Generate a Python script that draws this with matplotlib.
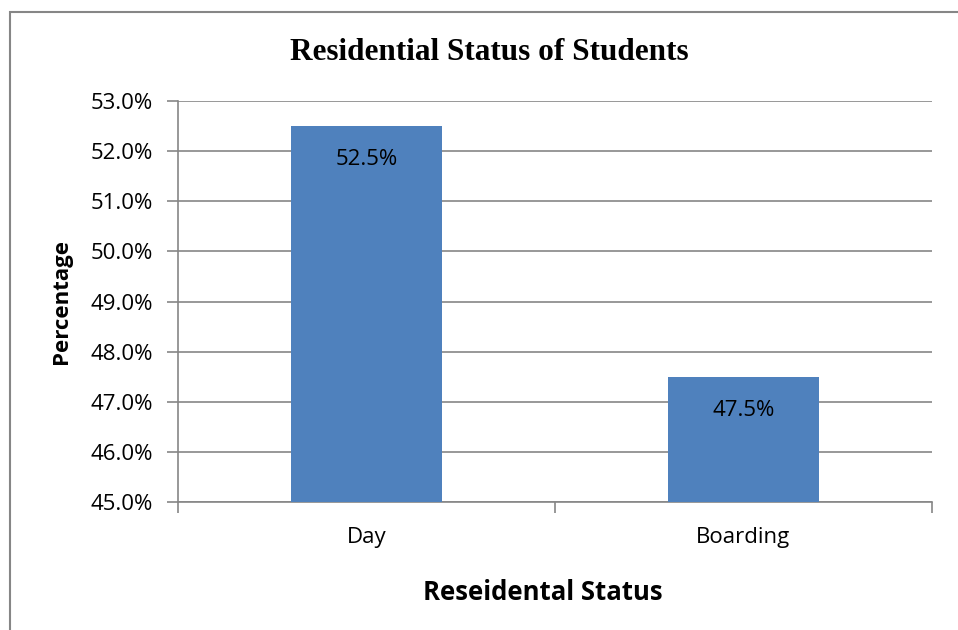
import matplotlib
matplotlib.use("Agg")
import matplotlib.pyplot as plt
from matplotlib.patches import Rectangle
from matplotlib.ticker import FuncFormatter

categories = ["Day", "Boarding"]
values = [52.5, 47.5]
yticks = [45, 46, 47, 48, 49, 50, 51, 52, 53]

W, H = 958, 630
fig = plt.figure(figsize=(W/100, H/100), dpi=100)
ax = fig.add_axes([178/W, 1-502/H, (932-178)/W, (502-101)/H])

grid_c = "#868686"
sans = ["Open Sans", "DejaVu Sans"]
fs = 16

x = range(len(categories))
bars = ax.bar(x, values, width=0.4, color="#4F81BD", zorder=3)
ax.set_xlim(-0.5, 1.5)
ax.set_ylim(45, 53)
ax.set_yticks(yticks)
ax.yaxis.set_major_formatter(FuncFormatter(lambda v, p: f"{v:.1f}%"))
ax.grid(axis="y", color=grid_c, linewidth=1.2, zorder=0)
ax.set_xticks([-0.5, 0.5, 1.5], minor=False)
ax.set_xticklabels([])
ax.set_xticks(list(x), minor=True)
ax.set_xticklabels(categories, minor=True, fontsize=fs, family=sans)
ax.tick_params(axis="x", which="minor", length=0, pad=18)
ax.tick_params(axis="x", which="major", length=8, width=1.2, color=grid_c)
ax.tick_params(axis="y", length=8, width=1.2, color=grid_c, labelsize=fs, pad=10)
for lbl in ax.get_yticklabels():
    lbl.set_family(sans)
for s in ["top", "right"]:
    ax.spines[s].set_visible(False)
for s in ["left", "bottom"]:
    ax.spines[s].set_color(grid_c)
    ax.spines[s].set_linewidth(1.2)

for b, v in zip(bars, values):
    ax.annotate(f"{v:.1f}%", (b.get_x() + b.get_width()/2, v), xytext=(0, -24),
                textcoords="offset points", ha="center", va="center",
                fontsize=fs, family=sans, color="black", zorder=4)

fig.text(489/W, 1-52/H, "Residential Status of Students", ha="center", va="center",
         fontsize=22.5, fontweight="bold", family=["Liberation Serif", "DejaVu Serif"])
fig.text(62/W, 1-301/H, "Percentage", ha="center", va="center", rotation=90,
         fontsize=16, fontweight="bold", family=sans)
fig.text(543/W, 1-592/H, "Reseidental Status", ha="center", va="center",
         fontsize=18.5, fontweight="bold", family=sans)

fig.patches.append(Rectangle((9.5/W, -0.1), 1.2, 1 - 11.5/H + 0.1, transform=fig.transFigure,
                             fill=False, edgecolor=grid_c, linewidth=1.5))

fig.savefig("out.png", dpi=100)
